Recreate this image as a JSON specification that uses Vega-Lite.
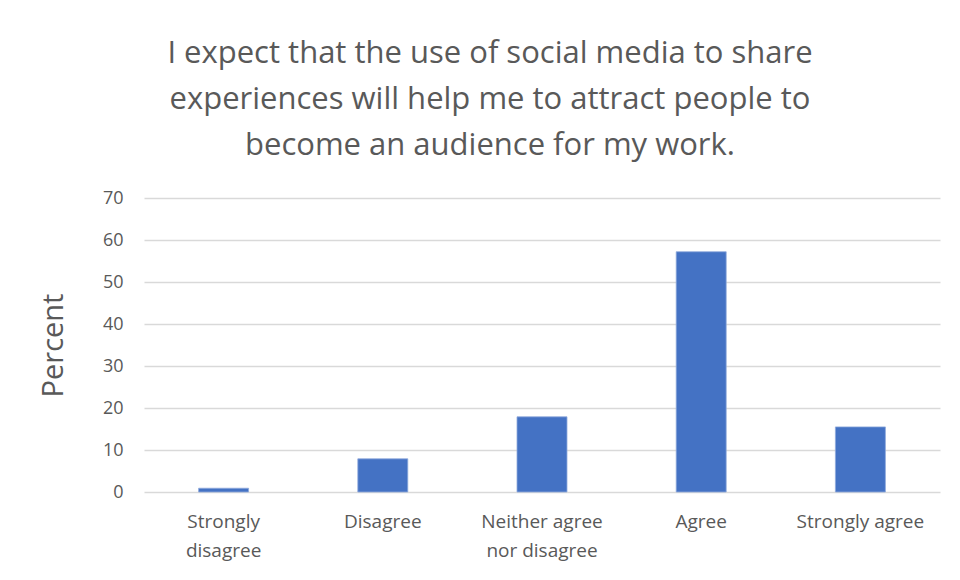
{
  "$schema": "https://vega.github.io/schema/vega-lite/v6.json",
  "width": 796,
  "height": 294,
  "autosize": {"type": "none"},
  "padding": {"left": 144, "top": 198, "right": 20, "bottom": 88},
  "background": "white",
  "title": {
    "text": ["I expect that  the use of social media to share", "experiences will help me to attract people to", "become an audience for my work."],
    "anchor": "middle",
    "dx": -52,
    "fontSize": 31,
    "font": "Open Sans",
    "fontWeight": "normal",
    "color": "#595959",
    "lineHeight": 46,
    "offset": 27
  },
  "data": {
    "values": [
      {"response": "Strongly disagree", "percent": 0.9},
      {"response": "Disagree", "percent": 7.9},
      {"response": "Neither agree nor disagree", "percent": 17.9},
      {"response": "Agree", "percent": 57.2},
      {"response": "Strongly agree", "percent": 15.5}
    ]
  },
  "mark": {"type": "bar", "color": "#4472C4", "stroke": "#8fa9dc", "strokeWidth": 0.8},
  "encoding": {
    "x": {
      "field": "response",
      "type": "nominal",
      "sort": null,
      "scale": {"paddingInner": 0.686, "paddingOuter": 0.343},
      "axis": {
        "title": null,
        "labelAngle": 0,
        "labelFont": "Open Sans",
        "labelFontSize": 19,
        "labelColor": "#595959",
        "labelPadding": 20,
        "labelLineHeight": 29,
        "labelExpr": "datum.value == 'Strongly disagree' ? ['Strongly', 'disagree'] : datum.value == 'Neither agree nor disagree' ? ['Neither agree', 'nor disagree'] : datum.value",
        "ticks": false,
        "domain": false
      }
    },
    "y": {
      "field": "percent",
      "type": "quantitative",
      "scale": {"domain": [0, 70]},
      "axis": {
        "title": "Percent",
        "titleFont": "Open Sans",
        "titleFontSize": 29,
        "titleFontWeight": "normal",
        "titleColor": "#595959",
        "titlePadding": 34,
        "values": [0, 10, 20, 30, 40, 50, 60, 70],
        "labelFont": "Open Sans",
        "labelFontSize": 18,
        "labelColor": "#595959",
        "labelPadding": 21,
        "ticks": false,
        "domain": false,
        "gridColor": "#d9d9d9",
        "gridWidth": 1.5
      }
    }
  },
  "config": {"view": {"stroke": null}}
}
